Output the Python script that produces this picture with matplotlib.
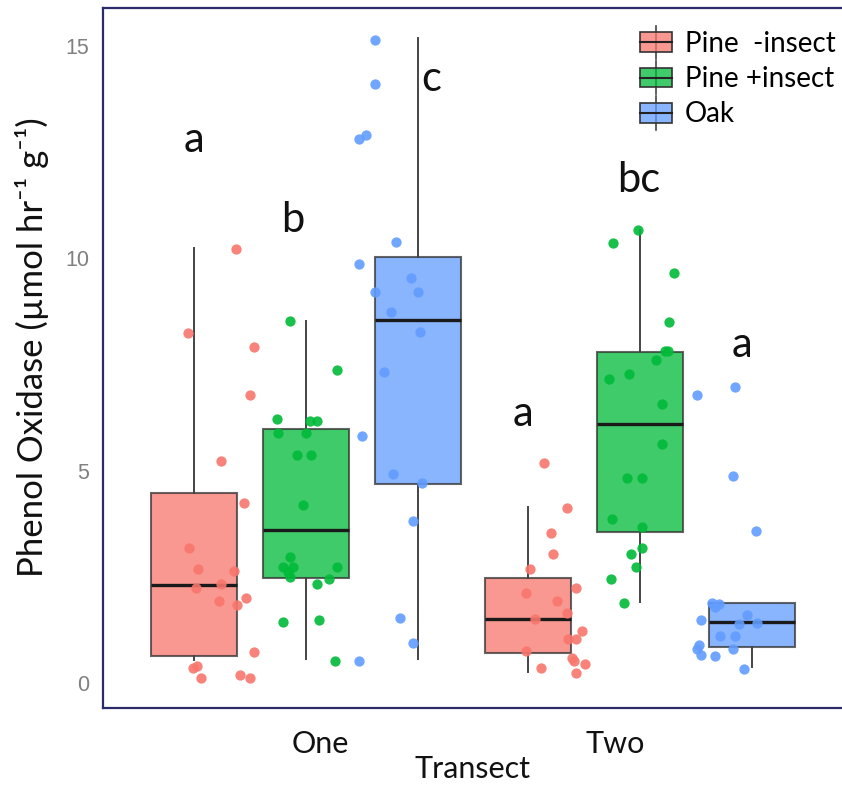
import matplotlib
matplotlib.use("Agg")
import matplotlib.pyplot as plt
from matplotlib.patches import Rectangle
from matplotlib.lines import Line2D
from matplotlib.legend_handler import HandlerBase

# --- data ------------------------------------------------------------------
transects = ["One", "Two"]
treatments = ["Pine  -insect", "Pine +insect", "Oak"]
colors = ["#F8766D", "#00BA38", "#619CFF"]

# box statistics per treatment: [One, Two]
box_q1 = [[0.64, 0.70], [2.47, 3.55], [4.68, 0.84]]
box_med = [[2.30, 1.51], [3.60, 6.10], [8.55, 1.44]]
box_q3 = [[4.47, 2.48], [5.98, 7.80], [10.02, 1.88]]
box_lo = [[0.54, 0.27], [0.56, 1.91], [0.56, 0.37]]
box_hi = [[10.24, 4.14], [8.53, 10.67], [15.18, 1.88]]

# jittered observations (value, horizontal jitter)
one_pine_minus_y = [10.21, 8.23, 7.92, 6.77, 5.23, 4.23, 3.17, 2.68, 2.64, 2.33,
                    2.24, 1.99, 1.93, 1.83, 0.74, 0.40, 0.36, 0.12, 0.19, 0.12]
one_pine_minus_dx = [0.126, -0.017, 0.18, 0.168, 0.08, 0.148, -0.016, 0.012, 0.12, 0.08,
                     0.005, 0.155, 0.073, 0.128, 0.18, 0.008, -0.004, 0.02, 0.138, 0.168]
one_pine_plus_y = [8.52, 7.37, 6.22, 5.89, 6.17, 6.17, 5.89, 5.37, 5.37, 4.19, 2.97,
                   2.72, 2.72, 2.62, 2.50, 2.72, 2.44, 2.33, 1.43, 1.48, 0.52]
one_pine_plus_dx = [-0.048, 0.094, -0.088, -0.083, 0.012, 0.032, 0.0, -0.028, 0.014, -0.008, -0.048,
                    -0.068, -0.04, -0.053, -0.048, 0.094, 0.068, 0.034, -0.07, 0.039, 0.088]
one_oak_y = [15.15, 14.1, 12.8, 12.9, 10.38, 9.87, 9.53, 9.21, 9.21, 8.73,
             8.27, 7.33, 5.82, 4.92, 4.70, 3.82, 1.54, 0.93, 0.52]
one_oak_dx = [-0.129, -0.129, -0.177, -0.154, -0.067, -0.176, -0.022, 0.001, -0.127, -0.081,
              0.006, -0.101, -0.167, -0.076, 0.011, -0.014, -0.054, -0.014, -0.176]
two_pine_minus_y = [5.17, 4.13, 3.52, 3.03, 2.68, 2.23, 2.13, 1.94, 1.64, 1.50,
                    1.23, 1.03, 1.03, 0.76, 0.58, 0.52, 0.45, 0.35, 0.24]
two_pine_minus_dx = [0.048, 0.115, 0.068, 0.076, 0.007, 0.142, -0.005, 0.088, 0.115, 0.022,
                     0.162, 0.118, 0.142, -0.005, 0.13, 0.138, 0.17, 0.04, 0.142]
two_pine_plus_y = [10.37, 10.67, 9.66, 8.51, 7.82, 7.82, 7.61, 7.16, 7.28, 6.58,
                   5.63, 4.82, 4.82, 3.87, 3.68, 3.17, 3.03, 2.72, 2.44, 1.88]
two_pine_plus_dx = [-0.082, -0.005, 0.102, 0.087, 0.083, 0.075, 0.047, -0.093, -0.033, 0.067,
                    0.067, -0.04, 0.007, -0.085, 0.007, 0.007, -0.027, -0.013, -0.087, -0.048]
two_oak_y = [6.78, 6.98, 4.87, 3.58, 1.89, 1.86, 1.80, 1.60, 1.48, 1.40,
             1.42, 1.11, 1.11, 0.89, 0.79, 0.66, 0.64, 0.79, 0.32]
two_oak_dx = [-0.164, -0.049, -0.056, 0.011, -0.119, -0.099, -0.109, -0.014, -0.151, -0.039,
              0.016, -0.094, -0.051, -0.159, -0.164, -0.151, -0.109, -0.057, -0.022]

points_y = [[one_pine_minus_y, two_pine_minus_y],
            [one_pine_plus_y, two_pine_plus_y],
            [one_oak_y, two_oak_y]]
points_dx = [[one_pine_minus_dx, two_pine_minus_dx],
             [one_pine_plus_dx, two_pine_plus_dx],
             [one_oak_dx, two_oak_dx]]

# significance letters: [One, Two] per treatment
letters = [["a", "a"], ["b", "bc"], ["c", "a"]]
letter_y = [[12.50, 6.04], [10.63, 11.57], [13.95, 7.68]]

# --- layout ------------------------------------------------------------------
dodge = 0.335
box_w = 0.257
letter_dx = [[0.0, -0.015], [-0.04, -0.005], [0.04, -0.03]]

class BoxKey(HandlerBase):
    def create_artists(self, legend, orig_handle, xdescent, ydescent, width, height, fontsize, trans):
        x0, y0 = -xdescent, -ydescent
        cx = x0 + width / 2
        whisk = Line2D([cx, cx], [y0 - 0.35 * height, y0 + 1.35 * height],
                       color="#444444", lw=1.2, transform=trans)
        box = Rectangle((x0, y0), width, height, facecolor=orig_handle.get_facecolor(),
                        edgecolor="#333333", lw=1.2, transform=trans)
        med = Line2D([x0, x0 + width], [y0 + height / 2] * 2, color="#222222", lw=1.5, transform=trans)
        return [whisk, box, med]

fig = plt.figure(figsize=(8.42, 7.87), dpi=100)
ax = fig.add_axes([103 / 842, 79 / 787, 739 / 842, 700 / 787])

for i, col in enumerate(colors):
    stats, pos = [], []
    for j in range(len(transects)):
        stats.append(dict(q1=box_q1[i][j], med=box_med[i][j], q3=box_q3[i][j],
                          whislo=box_lo[i][j], whishi=box_hi[i][j], fliers=[]))
        pos.append(j + 1 + (i - 1) * dodge)
    ax.bxp(stats, positions=pos, widths=box_w, showfliers=False, showcaps=False,
           patch_artist=True, manage_ticks=False,
           boxprops=dict(facecolor=col, alpha=0.75, edgecolor="#333333", lw=1.5),
           whiskerprops=dict(color="#444444", lw=1.4),
           medianprops=dict(color="#1a1a1a", lw=2.4))
    for j in range(len(transects)):
        xs = [j + 1 + (i - 1) * dodge + d for d in points_dx[i][j]]
        ax.scatter(xs, points_y[i][j], s=55, color=col, alpha=0.9, lw=0, zorder=4)
        ax.text(j + 1 + (i - 1) * dodge + letter_dx[i][j], letter_y[i][j], letters[i][j],
                ha="center", va="baseline", fontsize=30, family=["Lato", "DejaVu Sans"],
                color="#111111")

ax.set_xlim(0.392, 2.605)
ax.set_ylim(-0.589, 15.894)
ax.set_yticks([0, 5, 10, 15])
ax.set_yticklabels(["0", "5", "10", "15"], color="#808080", fontsize=15.5,
                   family="Liberation Sans")
ax.set_xticks([1.042, 1.925])
ax.set_xticklabels(transects, fontsize=22, family="Lato", color="#111111")
ax.tick_params(length=0)
ax.tick_params(axis="y", pad=10)
ax.tick_params(axis="x", pad=16)
for side in ["left", "top", "bottom"]:
    ax.spines[side].set_color("#2b2b6b")
    ax.spines[side].set_linewidth(1.6)
ax.spines["right"].set_visible(False)

ax.set_xlabel("Transect", fontsize=22, family="Lato", color="#111111", labelpad=-2)
ax.set_ylabel("Phenol Oxidase (µmol hr⁻¹ g⁻¹)", fontsize=25,
              family=["Lato", "DejaVu Sans"], color="#111111")
ax.yaxis.set_label_coords(-0.073, 0.515)

handles = [Rectangle((0, 0), 1, 1, facecolor=c, alpha=0.75) for c in colors]
ax.legend(handles, treatments, handler_map={Rectangle: BoxKey()}, loc="upper left",
          bbox_to_anchor=(0.7267, 0.967), frameon=False,
          prop={"family": "Lato", "size": 20}, handlelength=1.15, handleheight=0.72,
          handletextpad=0.47, labelspacing=0.33, borderpad=0, borderaxespad=0)

fig.savefig("out.png", dpi=100)
